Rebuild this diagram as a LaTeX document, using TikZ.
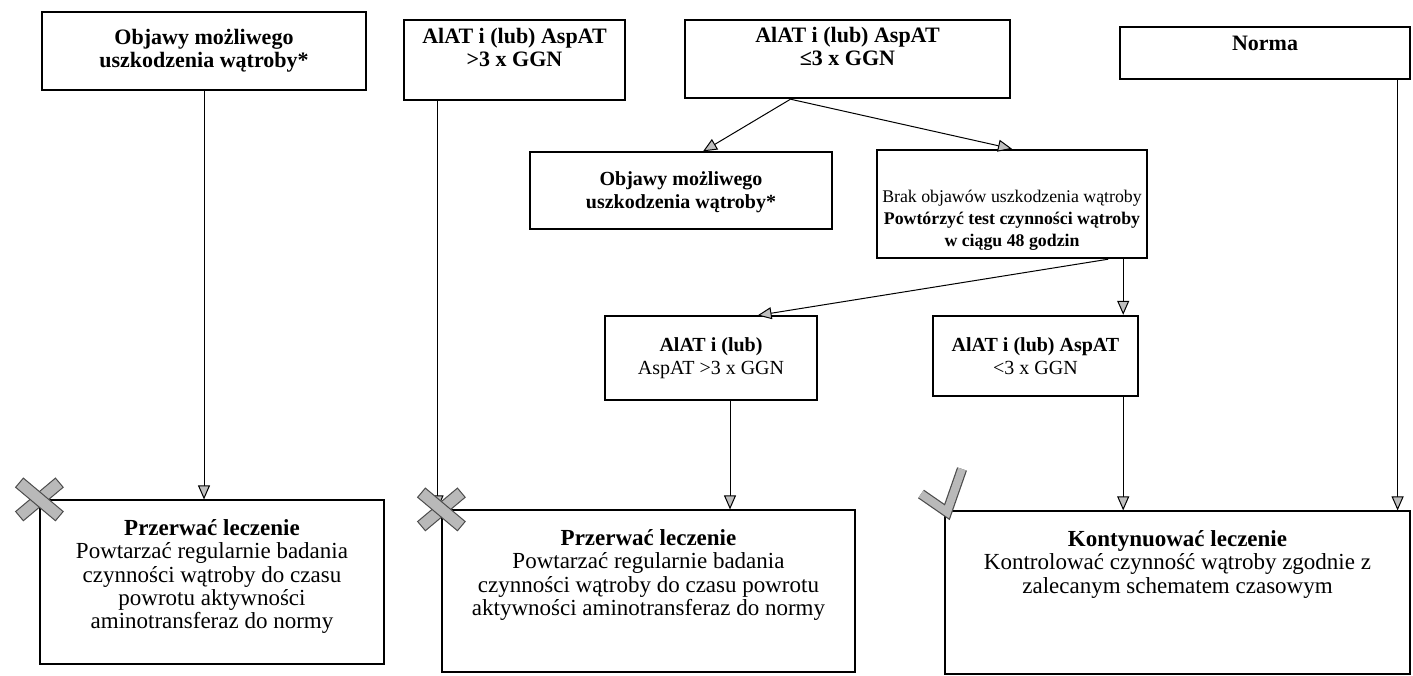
\documentclass[tikz,border=0pt]{standalone}
\usepackage{fontspec}
\setmainfont{Liberation Serif}
\usetikzlibrary{arrows.meta, positioning, calc}

\tikzset{
    box/.style={draw, line width=0.6pt, align=center, inner sep=1pt,
        font=\fontsize{11}{11.5}\selectfont\bfseries},
    thickbox/.style={box, line width=1.2pt},
    midbox/.style={box, font=\fontsize{10}{11.5}\selectfont\bfseries},
    frame/.style={draw, line width=0.6pt},
    thickframe/.style={draw, line width=1.2pt},
    toptext/.style={align=center, inner sep=0pt, font=\fontsize{11}{11.5}\selectfont\bfseries},
    endtext/.style={align=center, inner sep=0pt, font=\fontsize{11.5}{11.6}\selectfont},
    arr/.style={-{Triangle[open, fill=gray!50, length=7pt, width=6pt]}, line width=0.5pt},
    crossmark/.style={draw=black!70, fill=gray!55, line width=0.5pt},
    tickmark/.style={draw=black!70, double=gray!55, double distance=4pt, line width=0.6pt},
}

\begin{document}
\begin{tikzpicture}[x=0.5pt, y=-0.5pt]
    \useasboundingbox (0,0) rectangle (1413,675);

    % top row
    \node[box, minimum width=162pt, minimum height=39pt] (obj1) at (204,51)
        {Objawy możliwego\\uszkodzenia wątroby*};
    \node[frame, minimum width=110.5pt, minimum height=40pt] (alat1) at (514.5,60) {};
    \node[toptext, below=4pt of alat1.north] (alat1txt) {AlAT i (lub) AspAT\\>3 x GGN};
    \node[thickframe, minimum width=162.5pt, minimum height=39pt] (alat2) at (847.5,59) {};
    \node[toptext, below=4pt of alat2.north] (alat2txt) {AlAT i (lub) AspAT\\≤3 x GGN};
    \node[frame, minimum width=145pt, minimum height=26pt] (norma) at (1265,53) {};
    \node[toptext, below=4.5pt of norma.north] (normatxt) {Norma};

    % second row
    \node[frame, minimum width=151pt, minimum height=38.5pt] (obj2) at (681,190.5) {};
    \node[toptext, font=\fontsize{10}{11.5}\selectfont\bfseries, below=10pt of obj2.north] (obj2txt)
        {Objawy możliwego\\uszkodzenia wątroby*};
    \node[thickframe, minimum width=135pt, minimum height=54pt] (brak) at (1012,204) {};
    \node[toptext, font=\fontsize{8.9}{11}\selectfont, below=20.5pt of brak.north] (braktxt)
        {Brak objawów uszkodzenia wątroby\\\textbf{Powtórzyć test czynności wątroby}\\\textbf{w ciągu 48 godzin}};

    % third row
    \node[midbox, minimum width=106pt, minimum height=42pt] (alat3) at (711,358)
        {AlAT i (lub)\\\mdseries AspAT >3 x GGN};
    \node[thickbox, font=\fontsize{10}{11.5}\selectfont\bfseries,
        minimum width=102.5pt, minimum height=40pt] (alat4) at (1035.5,356)
        {AlAT i (lub) AspAT\\\mdseries <3 x GGN};

    % bottom row
    \node[frame, minimum width=172pt, minimum height=82pt] (stop1) at (212,582) {};
    \node[endtext, below=10pt of stop1.north] (stop1txt)
        {\textbf{Przerwać leczenie}\\Powtarzać regularnie badania\\czynności wątroby do czasu\\powrotu aktywności\\aminotransferaz do normy};
    \node[frame, minimum width=206.5pt, minimum height=81pt] (stop2) at (648.5,591) {};
    \node[endtext, below=10pt of stop2.north] (stop2txt)
        {\textbf{Przerwać leczenie}\\Powtarzać regularnie badania\\czynności wątroby do czasu powrotu\\aktywności aminotransferaz do normy};
    \node[frame, minimum width=232.5pt, minimum height=81.5pt] (cont) at (1177.5,592.5) {};
    \node[endtext, below=10pt of cont.north] (conttxt)
        {\textbf{Kontynuować leczenie}\\Kontrolować czynność wątroby zgodnie z\\zalecanym schematem czasowym};

    % arrows
    \draw[arr] (obj1.south) -- (obj1.south |- stop1.north);
    \draw[arr] ([xshift=-38.5pt]alat1.south) -- ([xshift=-38.5pt]alat1.south |- stop2.north);
    \draw[arr] ([xshift=-28.5pt]alat2.south) -- ([xshift=11pt]obj2.north);
    \draw[arr] ([xshift=-28.5pt]alat2.south) -- (brak.north);
    \draw[arr] ([xshift=-20pt]brak.south east) -- ([xshift=-30pt]alat3.north east);
    \draw[arr] ([xshift=-8pt]alat4.north east |- brak.south) -- ([xshift=-8pt]alat4.north east);
    \draw[arr] ([xshift=9.5pt]alat3.south) -- ([xshift=9.5pt]alat3.south |- stop2.north);
    \draw[arr] ([xshift=-8pt]alat4.south east) -- ([xshift=-8pt]alat4.south east |- cont.north);
    \draw[arr] ([xshift=-6.5pt]norma.south east) -- ([xshift=-6.5pt]norma.south east |- cont.north);

    % marks at the corners
    \foreach \c in {stop1.north west, stop2.north west} {
        \draw[crossmark, shift={(\c)}, rotate=40] (-26,-6) rectangle (26,6);
        \draw[crossmark, shift={(\c)}, rotate=-40] (-26,-6) rectangle (26,6);
    }
    \draw[tickmark] (921,494) -- (947,512) -- (962,469);
\end{tikzpicture}
\end{document}
